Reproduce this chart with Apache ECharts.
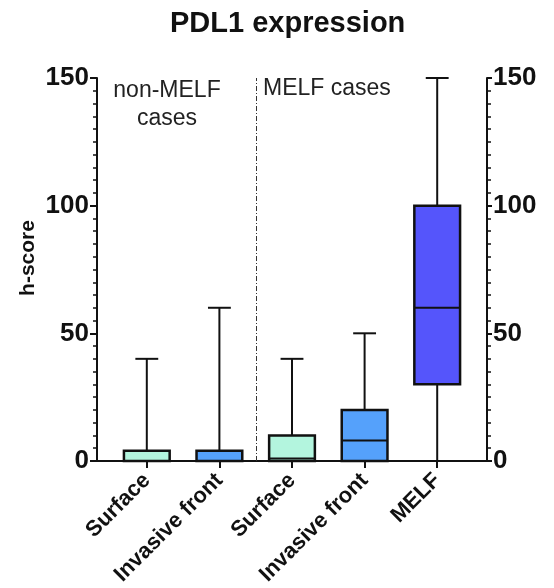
<!DOCTYPE html>
<html lang="en">
<head>
  <meta charset="UTF-8">
  <title>PDL1 expression</title>
  <style>
    * { margin: 0; padding: 0; }
    body { background: #ffffff; }
    #chart { width: 554px; height: 588px; }
  </style>
</head>
<body>
  <div id="chart"></div>
  <script src="https://cdn.jsdelivr.net/npm/echarts@6/dist/echarts.min.js"></script>
  <script type="text/javascript">
  var categories = ['Surface', 'Invasive front', 'Surface', 'Invasive front', 'MELF'];
  var boxMin = [0, 0, 0, 0, 0];
  var boxQ1 = [0, 0, 0, 0, 30];
  var boxMedian = [0, 0, 1, 8, 60];
  var boxQ3 = [4, 4, 10, 20, 100];
  var boxMax = [40, 60, 40, 50, 150];
  var boxColors = ['#b3f5de', '#55a1fb', '#b3f5de', '#55a1fb', '#5555fb'];
  var yMin = 0, yMax = 150, yStep = 50;
  var groupSplit = 1.5;

  var font = 'Liberation Sans, Arial, sans-serif';
  var ink = '#111111';

  function renderBox(params, api) {
    var i = api.value(0);
    var x = api.coord([i, 0])[0];
    var band = api.size([1, 0])[0];
    var w = band * 0.63;
    var cap = w * 0.5;
    var pMin = api.coord([i, api.value(1)])[1];
    var pQ1 = api.coord([i, api.value(2)])[1];
    var pMed = api.coord([i, api.value(3)])[1];
    var pQ3 = api.coord([i, api.value(4)])[1];
    var pMax = api.coord([i, api.value(5)])[1];
    var line = { stroke: ink, lineWidth: 2 };
    return {
      type: 'group',
      children: [
        { type: 'line', shape: { x1: x, y1: pMax, x2: x, y2: pQ3 }, style: line },
        { type: 'line', shape: { x1: x, y1: pQ1, x2: x, y2: pMin }, style: line },
        { type: 'line', shape: { x1: x - cap / 2, y1: pMax, x2: x + cap / 2, y2: pMax }, style: line },
        { type: 'rect', shape: { x: x - w / 2, y: pQ3, width: w, height: pQ1 - pQ3 },
          style: { fill: boxColors[i], stroke: ink, lineWidth: 2.5 } },
        { type: 'line', shape: { x1: x - w / 2, y1: pMed, x2: x + w / 2, y2: pMed }, style: line }
      ]
    };
  }

  function main () {
    var chart = echarts.init(document.getElementById('chart'));
    var yLabel = { fontFamily: font, fontWeight: 'bold', fontSize: 26, color: ink };
    var option = {
      animation: false,
      title: {
        text: 'PDL1 expression', left: 165, top: 4,
        textStyle: { fontFamily: font, fontWeight: 'bold', fontSize: 29, color: ink }
      },
      grid: [
        { left: 97, right: 67, top: 78, bottom: 127 },
        { left: 110.5, right: 80.5, top: 78, bottom: 127 }
      ],
      xAxis: [
        { type: 'value', gridIndex: 0, min: -0.69, max: 4.69,
          axisLine: { show: true, onZero: false, lineStyle: { color: ink, width: 2 } },
          axisTick: { show: false }, axisLabel: { show: false }, splitLine: { show: false } },
        { type: 'category', gridIndex: 1, data: categories,
          axisLine: { show: false },
          axisTick: { show: true, alignWithLabel: true, length: 7, lineStyle: { color: ink, width: 2 } },
          axisLabel: { rotate: 45, margin: 16, interval: 0, fontFamily: font, fontWeight: 'bold', fontSize: 22, color: ink },
          splitLine: { show: false } }
      ],
      yAxis: [
        { type: 'value', gridIndex: 0, position: 'left', min: yMin, max: yMax, interval: yStep,
          axisLine: { show: true, onZero: false, lineStyle: { color: ink, width: 2 } },
          axisTick: { show: true, length: 7, lineStyle: { color: ink, width: 2 } },
          minorTick: { show: true, splitNumber: 10, length: 4, lineStyle: { color: ink, width: 1.5 } },
          axisLabel: Object.assign({ margin: 8 }, yLabel),
          splitLine: { show: false } },
        { type: 'value', gridIndex: 0, position: 'right', min: yMin, max: yMax, interval: yStep,
          axisLine: { show: true, onZero: false, lineStyle: { color: ink, width: 2 } },
          axisTick: { show: true, length: 5, lineStyle: { color: ink, width: 2 } },
          minorTick: { show: true, splitNumber: 10, length: 4, lineStyle: { color: ink, width: 1.5 } },
          axisLabel: Object.assign({ margin: 6 }, yLabel),
          splitLine: { show: false } },
        { type: 'value', gridIndex: 1, min: yMin, max: yMax, show: false }
      ],
      graphic: [
        { type: 'text', x: 28, y: 258, rotation: Math.PI / 2,
          style: { text: 'h-score', font: 'bold 21px ' + font, fill: ink, align: 'center', verticalAlign: 'middle' } },
        { type: 'text', x: 167, y: 77,
          style: { text: 'non-MELF\ncases', font: '23px ' + font, fill: '#222', align: 'center', lineHeight: 28 } },
        { type: 'text', x: 263, y: 77,
          style: { text: 'MELF cases', font: '23px ' + font, fill: '#222' } }
      ],
      series: [
        { type: 'line', xAxisIndex: 0, yAxisIndex: 0, data: [], silent: true,
          markLine: { symbol: 'none', silent: true, label: { show: false },
            lineStyle: { color: '#333', width: 1, type: [5, 2, 1, 2] },
            data: [{ xAxis: groupSplit }] } },
        { type: 'custom', xAxisIndex: 1, yAxisIndex: 2, renderItem: renderBox,
          encode: { x: 0, y: [1, 2, 3, 4, 5] },
          data: categories.map(function (c, i) {
            return [i, boxMin[i], boxQ1[i], boxMedian[i], boxQ3[i], boxMax[i]];
          }) }
      ]
    };
    chart.setOption(option);
  }

  window.addEventListener('load', main);
  </script>
</body>
</html>
